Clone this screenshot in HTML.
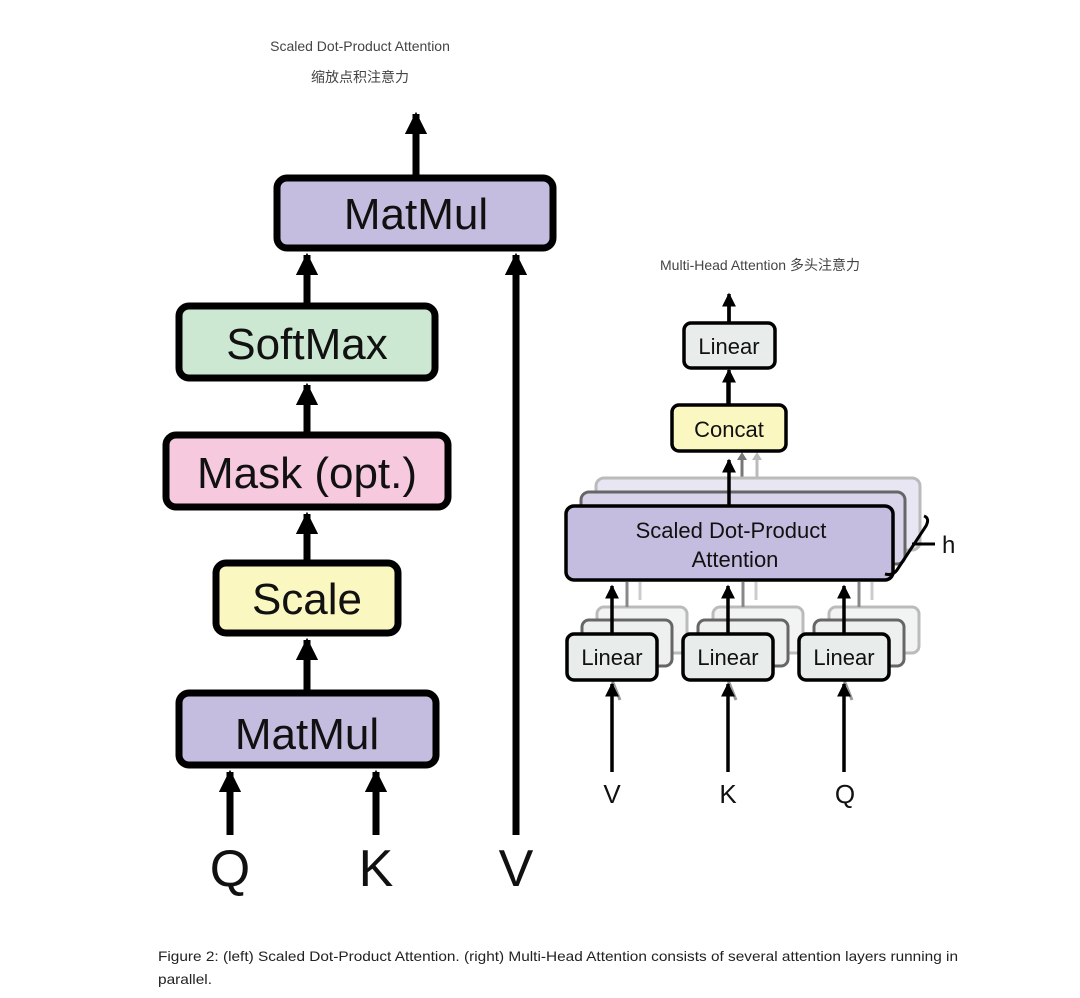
<!DOCTYPE html>
<html><head><meta charset="utf-8"><style>
html,body{margin:0;padding:0;background:#fff;}
svg{display:block;}
text{font-family:"Liberation Sans","Noto Sans CJK SC",sans-serif;}
</style></head><body>
<svg width="1080" height="998" viewBox="0 0 1080 998" xmlns="http://www.w3.org/2000/svg">
<defs>
<marker id="ah" viewBox="0 0 10 10" refX="9" refY="5" markerWidth="3.2" markerHeight="3.2" orient="auto" markerUnits="strokeWidth"><path d="M0,0 L10,5 L0,10 z" fill="#000"/></marker>
<marker id="ahs" viewBox="0 0 10 10" refX="9" refY="5" markerWidth="4" markerHeight="4" orient="auto" markerUnits="strokeWidth"><path d="M0,0 L10,5 L0,10 z" fill="#000"/></marker>
</defs>
<text x="360" y="51" font-size="14" fill="#444" text-anchor="middle">Scaled Dot-Product Attention</text>
<text x="360" y="82" font-size="14" fill="#444" text-anchor="middle">缩放点积注意力</text>

<!-- left arrows -->
<g stroke="#000" stroke-width="7" fill="none" marker-end="url(#ah)">
<line x1="416" y1="175" x2="416" y2="114"/>
<line x1="307" y1="303" x2="307" y2="255"/>
<line x1="307" y1="432" x2="307" y2="385"/>
<line x1="307" y1="560" x2="307" y2="514"/>
<line x1="307" y1="690" x2="307" y2="640"/>
<line x1="230" y1="835" x2="230" y2="772"/>
<line x1="376" y1="835" x2="376" y2="772"/>
<line x1="516" y1="835" x2="516" y2="255"/>
</g>
<g stroke="#000" stroke-width="7">
<rect x="277" y="178" width="276" height="70" rx="10" fill="#c5bde0"/>
<rect x="179" y="306" width="256" height="72" rx="10" fill="#cce8d2"/>
<rect x="166" y="435" width="282" height="72" rx="10" fill="#f6c9df"/>
<rect x="216" y="563" width="182" height="70" rx="10" fill="#fbf7c0"/>
<rect x="179" y="693" width="257" height="72" rx="10" fill="#c5bde0"/>
</g>
<g font-size="44" fill="#111" text-anchor="middle">
<text x="416" y="229">MatMul</text>
<text x="307" y="359">SoftMax</text>
<text x="307" y="488">Mask (opt.)</text>
<text x="307" y="614">Scale</text>
<text x="307" y="749">MatMul</text>
</g>
<g font-size="52" fill="#111" text-anchor="middle">
<text x="230" y="886">Q</text>
<text x="376" y="886">K</text>
<text x="516" y="886">V</text>
</g>

<!-- right -->
<text x="760" y="270" font-size="14" fill="#444" text-anchor="middle">Multi-Head Attention  多头注意力</text>
<g stroke="#000" stroke-width="3.5" fill="none" marker-end="url(#ahs)">
<line x1="729" y1="323" x2="729" y2="294"/>
<line x1="729" y1="405" x2="729" y2="370"/>
</g>
<g stroke="#777" stroke-width="3" fill="none"><line x1="742" y1="490" x2="742" y2="456"/></g>
<g stroke="#bbb" stroke-width="3" fill="none"><line x1="757" y1="480" x2="757" y2="456"/></g>
<path d="M737,460 l5,-8 l5,8z" fill="#777"/><path d="M752,460 l5,-8 l5,8z" fill="#bbb"/>
<!-- SDPA shadows -->
<rect x="596" y="478" width="324" height="72" rx="8" fill="#e8e6f2" stroke="#bbb" stroke-width="3"/>
<rect x="581" y="492" width="324" height="72" rx="8" fill="#d9d4ea" stroke="#666" stroke-width="3"/>
<rect x="566" y="506" width="327" height="74" rx="8" fill="#c5bde0" stroke="#000" stroke-width="3.5"/>
<text x="731" y="538" font-size="22" fill="#111" text-anchor="middle">Scaled Dot-Product</text>
<text x="735" y="567" font-size="22" fill="#111" text-anchor="middle">Attention</text>
<line x1="729" y1="506" x2="729" y2="460" stroke="#000" stroke-width="3.5" marker-end="url(#ahs)"/>
<path d="M924,516 q6,2 2,10 L897,570 q-4,6 -12,4" stroke="#000" stroke-width="3" fill="none"/>
<line x1="912" y1="544" x2="935" y2="544" stroke="#000" stroke-width="3"/>
<text x="942" y="553" font-size="24" fill="#111">h</text>
<line x1="729" y1="323" x2="729" y2="306" stroke="#000" stroke-width="3.5"/>

<line x1="728" y1="405" x2="728" y2="374" stroke="#000" stroke-width="3.5"/>
<rect x="684" y="323" width="91" height="45" rx="7" fill="#e8ecea" stroke="#000" stroke-width="3.5"/>
<text x="729" y="354" font-size="22" fill="#111" text-anchor="middle">Linear</text>
<rect x="672" y="405" width="114" height="46" rx="7" fill="#fbf7c0" stroke="#000" stroke-width="3.5"/>
<text x="729" y="437" font-size="22" fill="#111" text-anchor="middle">Concat</text>

<!-- Linear groups -->
<g id="lg">
<rect x="597" y="607" width="90" height="46" rx="7" fill="#f2f4f3" stroke="#bbb" stroke-width="3"/>
<rect x="582" y="620" width="90" height="46" rx="7" fill="#eef0ef" stroke="#666" stroke-width="3"/>
<line x1="627" y1="607" x2="627" y2="582" stroke="#888" stroke-width="3"/>
<line x1="640" y1="600" x2="640" y2="582" stroke="#ccc" stroke-width="3"/>
<line x1="612" y1="680" x2="620" y2="700" stroke="#999" stroke-width="3"/>
<rect x="567" y="634" width="90" height="46" rx="7" fill="#e8ecea" stroke="#000" stroke-width="3.5"/>
<text x="612" y="665" font-size="22" fill="#111" text-anchor="middle">Linear</text>
<line x1="612" y1="634" x2="612" y2="586" stroke="#000" stroke-width="3.5" marker-end="url(#ahs)"/>
<line x1="612" y1="772" x2="612" y2="684" stroke="#000" stroke-width="3.5" marker-end="url(#ahs)"/>
</g>
<use href="#lg" x="116"/>
<use href="#lg" x="232"/>
<g font-size="26" fill="#111" text-anchor="middle">
<text x="612" y="803">V</text>
<text x="728" y="803">K</text>
<text x="845" y="803">Q</text>
</g>

<text x="158" y="961" font-size="14" fill="#222" textLength="800" lengthAdjust="spacingAndGlyphs">Figure 2: (left) Scaled Dot-Product Attention. (right) Multi-Head Attention consists of several attention layers running in</text>
<text x="158" y="984" font-size="14" fill="#222" textLength="54" lengthAdjust="spacingAndGlyphs">parallel.</text>
</svg>
</body></html>
